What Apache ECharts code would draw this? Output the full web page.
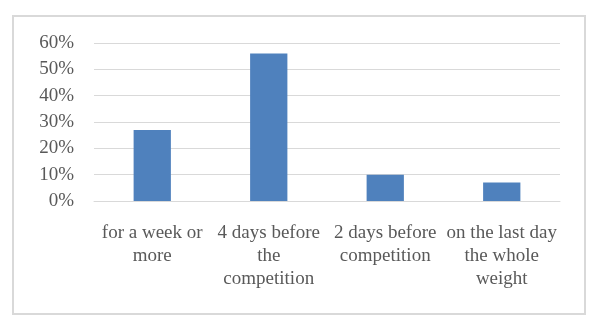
<!DOCTYPE html>
<html><head><meta charset="utf-8">
<script src="https://cdn.jsdelivr.net/npm/echarts@6/dist/echarts.min.js"></script>
<style>html,body{margin:0;padding:0;background:#fff}#c{width:604px;height:334px}</style>
</head><body><div id="c"></div>
<script>
const categories = ['for a week or\nmore', '4 days before\nthe\ncompetition', '2 days before\ncompetition', 'on the last day\nthe whole\nweight'];
const values = [27, 56, 10, 7];
const yTicks = [0, 10, 20, 30, 40, 50, 60];

const chart = echarts.init(document.getElementById('c'), null, {renderer: 'canvas'});
const font = '"Liberation Serif", "Times New Roman", serif';
chart.setOption({
  animation: false,
  graphic: [{type: 'rect', shape: {x: 13, y: 16, width: 572, height: 298}, style: {fill: 'none', stroke: '#d9d9d9', lineWidth: 2}}],
  grid: {left: 94, right: 44, top: 43, bottom: 133, containLabel: false},
  xAxis: {
    type: 'category', data: categories,
    axisLine: {lineStyle: {color: '#d9d9d9'}}, axisTick: {show: false},
    axisLabel: {color: '#595959', fontFamily: font, fontSize: 19, lineHeight: 23, margin: 21, interval: 0}
  },
  yAxis: {
    type: 'value', min: yTicks[0], max: yTicks[yTicks.length - 1], interval: 10,
    axisLine: {show: false}, axisTick: {show: false},
    splitLine: {lineStyle: {color: '#d9d9d9'}},
    axisLabel: {color: '#595959', fontFamily: font, fontSize: 19, margin: 20, formatter: v => v + '%'}
  },
  series: [{type: 'bar', data: values, barWidth: '32%', itemStyle: {color: '#4f81bd'}}]
});
</script></body></html>
